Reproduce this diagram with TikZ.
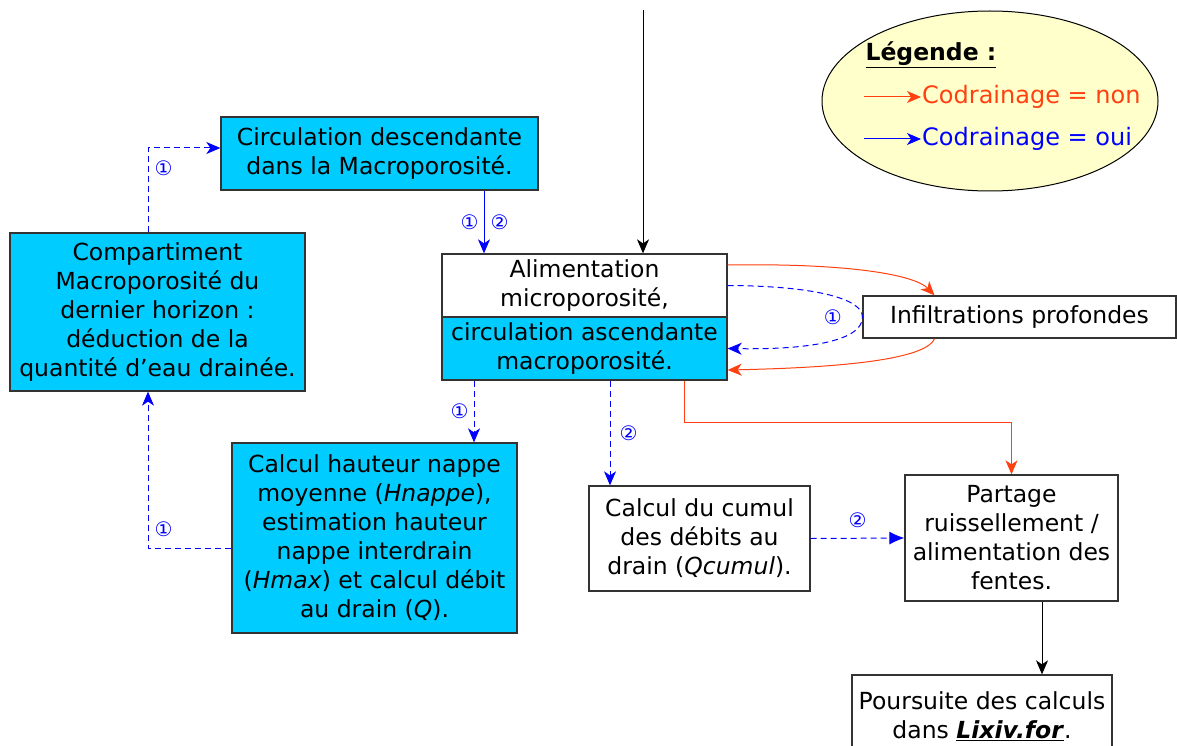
\documentclass[tikz,border=0pt]{standalone}
\usepackage{fontspec}
\setmainfont{DejaVu Sans}
\usepackage{tikz}
\usetikzlibrary{arrows.meta, shapes.geometric}
\definecolor{cyanfill}{RGB}{0,204,255}
\definecolor{nonred}{RGB}{255,64,16}
\definecolor{legfill}{RGB}{255,255,204}
\tikzstyle{box}=[draw=black!80, line width=1.3pt, align=center, inner sep=1pt, fill=white, font=\fontsize{23.5}{29}\selectfont]
\tikzstyle{cyanbox}=[box, fill=cyanfill]
\tikzstyle{num}=[text=blue, inner sep=2pt, font=\fontsize{20}{20}\selectfont]
\tikzstyle{oui}=[blue, line width=1pt, -{Stealth[length=14pt, width=12pt, inset=4pt]}]
\tikzstyle{non}=[nonred, line width=1pt, -{Stealth[length=14pt, width=12pt, inset=4pt]}]

\begin{document}
\begin{tikzpicture}[x=1pt, y=-1pt]
      \useasboundingbox (0,0) rectangle (1177,746);
      \clip (0,0) rectangle (1177,746);
      \node[cyanbox, minimum width=317, minimum height=73](desc) at (379.5,153.5) {Circulation descendante\\dans la Macroporosité.};
      \node[cyanbox, minimum width=295, minimum height=158](comp) at (157.5,312) {Compartiment\\Macroporosité du\\dernier horizon :\\déduction de la\\quantité d’eau drainée.};
      \node[box, minimum width=285, minimum height=63](alimtop) at (584.5,285.5) {Alimentation\\microporosité,};
      \node[cyanbox, minimum width=285, minimum height=63](alimbot) at (584.5,348.5) {circulation ascendante\\macroporosité.};
      \node[box, minimum width=313, minimum height=42](infil) at (1019.5,317) {Infiltrations profondes};
      \node[cyanbox, minimum width=285, minimum height=190](haut) at (374.5,538) {Calcul hauteur nappe\\moyenne (\textit{Hnappe}),\\estimation hauteur\\nappe interdrain\\(\textit{Hmax}) et calcul débit\\au drain (\textit{Q}).};
      \node[box, minimum width=221, minimum height=105](cumul) at (699.5,538.5) {Calcul du cumul\\des débits au\\drain (\textit{Qcumul}).};
      \node[box, minimum width=213, minimum height=126](partage) at (1011.5,538) {Partage\\ruissellement /\\alimentation des\\fentes.};
      \node[box, minimum width=260, minimum height=82](pours) at (982,716) {Poursuite des calculs\\dans \underline{\textbf{\textit{Lixiv.for}}}.};

      % legende
      \node[ellipse, draw, line width=1pt, fill=legfill, minimum width=336, minimum height=180](legend) at (990,101) {};
      \node[anchor=west, font=\fontsize{23.5}{29}\selectfont\bfseries](legtitle) at (862,55) {\underline{Légende :}};
      \node[anchor=west, inner sep=1pt, text=nonred, font=\fontsize{24}{29}\selectfont](legnon) at (921,97) {Codrainage = non};
      \node[anchor=west, inner sep=1pt, text=blue, font=\fontsize{24}{29}\selectfont](legoui) at (921,139) {Codrainage = oui};
      \coordinate (lnon) at (864,97);
      \coordinate (loui) at (864,139);
      \draw[non] (lnon) -- (legnon);
      \draw[oui] (loui) -- (legoui);

      \coordinate (src) at (643,10);
      \draw[line width=1pt, -{Stealth[length=14pt, width=12pt, inset=4pt]}] (src) -- (src |- alimtop.north);
      \draw[oui] ([xshift=104.5]desc.south) -- ([xshift=104.5]desc.south |- alimtop.north)
        node[num, midway, left=3pt] {①} node[num, midway, right=4pt] {②};
      \begin{scope}[every path/.style={oui, dash pattern=on 6pt off 4pt}]
        \draw ([xshift=-9.5]comp.north) |- ([yshift=5.5]desc.west) node[num, pos=0.38, right=4pt] {①};
        \draw ([yshift=-10]haut.west) -| ([xshift=-9.5]comp.south) node[num, pos=0.56, right=4pt] {①};
        \draw ([xshift=-110.5]alimbot.south) -- ([xshift=-110.5]alimbot.south |- haut.north) node[num, pos=0.5, left=3pt] {①};
        \draw ([xshift=25.5]alimbot.south) -- ([xshift=25.5]alimbot.south |- cumul.north) node[num, pos=0.5, right=7pt] {②};
        \draw (alimtop.east) .. controls (820,286) and (863,300) .. (infil.west) node[num, left=18pt] {①} .. controls (863,338) and (820,350) .. (alimbot.east);
        \draw[-{Latex[length=15pt, width=13pt]}] (cumul.east) -- (partage.west) node[num, midway, above=8pt] {②};
      \end{scope}
      \draw[non] ([yshift=20.5]alimtop.east) .. controls (850,263) and (915,275) .. ([xshift=-85]infil.north);
      \draw[non] ([xshift=-85]infil.south) .. controls (925,362) and (820,368) .. ([yshift=-21.5]alimbot.east);
      \draw[non] ([xshift=99.5]alimbot.south) -- ++(0,42) -| (partage.north);
      \draw[line width=1pt, -{Stealth[length=14pt, width=12pt, inset=4pt]}] ([xshift=30.5]partage.south) -- ([xshift=30.5]partage.south |- pours.north);
    \end{tikzpicture}
\end{document}
